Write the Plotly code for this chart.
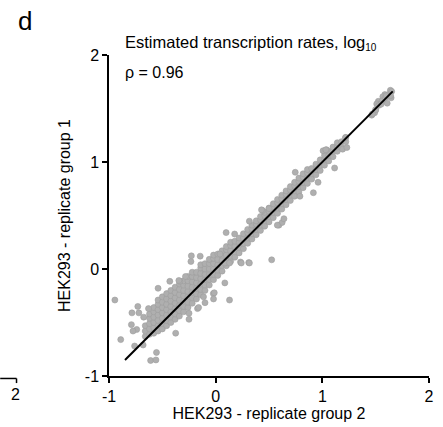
import plotly.graph_objects as go

# ---- data: estimated transcription rates (log10) ----
# core band: (replicate group 2, replicate group 1)
core_pts = [
    (-0.66, -0.63), (-0.66, -0.58), (-0.66, -0.53),
    (-0.62, -0.61), (-0.62, -0.56), (-0.62, -0.51), (-0.62, -0.46), (-0.62, -0.42),
    (-0.58, -0.60), (-0.58, -0.55), (-0.58, -0.50), (-0.58, -0.45), (-0.58, -0.40), (-0.58, -0.36),
    (-0.54, -0.58), (-0.54, -0.53), (-0.54, -0.48), (-0.54, -0.43), (-0.54, -0.38), (-0.54, -0.33), (-0.54, -0.29),
    (-0.50, -0.56), (-0.50, -0.51), (-0.50, -0.46), (-0.50, -0.41), (-0.50, -0.36), (-0.50, -0.31), (-0.50, -0.26),
    (-0.46, -0.53), (-0.46, -0.48), (-0.46, -0.43), (-0.46, -0.38), (-0.46, -0.33), (-0.46, -0.28), (-0.46, -0.23),
    (-0.42, -0.50), (-0.42, -0.45), (-0.42, -0.40), (-0.42, -0.35), (-0.42, -0.30), (-0.42, -0.25), (-0.42, -0.20),
    (-0.38, -0.47), (-0.38, -0.42), (-0.38, -0.37), (-0.38, -0.32), (-0.38, -0.27), (-0.38, -0.22), (-0.38, -0.17),
    (-0.34, -0.44), (-0.34, -0.39), (-0.34, -0.34), (-0.34, -0.29), (-0.34, -0.24), (-0.34, -0.19), (-0.34, -0.14),
    (-0.30, -0.40), (-0.30, -0.35), (-0.30, -0.30), (-0.30, -0.25), (-0.30, -0.20), (-0.30, -0.15), (-0.30, -0.11),
    (-0.26, -0.36), (-0.26, -0.31), (-0.26, -0.26), (-0.26, -0.21), (-0.26, -0.16), (-0.26, -0.11), (-0.26, -0.07),
    (-0.22, -0.32), (-0.22, -0.27), (-0.22, -0.22), (-0.22, -0.17), (-0.22, -0.12), (-0.22, -0.07), (-0.22, -0.03),
    (-0.18, -0.28), (-0.18, -0.23), (-0.18, -0.18), (-0.18, -0.13), (-0.18, -0.08), (-0.18, -0.03),
    (-0.14, -0.24), (-0.14, -0.19), (-0.14, -0.14), (-0.14, -0.09), (-0.14, -0.04), (-0.14, 0.01), (-0.14, 0.04),
    (-0.10, -0.20), (-0.10, -0.15), (-0.10, -0.10), (-0.10, -0.05), (-0.10, 0.00), (-0.10, 0.05),
    (-0.06, -0.15), (-0.06, -0.10), (-0.06, -0.05), (-0.06, 0.00), (-0.06, 0.05), (-0.06, 0.09),
    (-0.02, -0.10), (-0.02, -0.05), (-0.02, 0.00), (-0.02, 0.05), (-0.02, 0.10), (-0.02, 0.13),
    (0.02, -0.06), (0.02, -0.01), (0.02, 0.04), (0.02, 0.09), (0.02, 0.14),
    (0.06, -0.02), (0.06, 0.03), (0.06, 0.08), (0.06, 0.13), (0.06, 0.17),
    (0.10, 0.03), (0.10, 0.08), (0.10, 0.13), (0.10, 0.18), (0.10, 0.21),
    (0.14, 0.07), (0.14, 0.12), (0.14, 0.17), (0.14, 0.22), (0.14, 0.25),
    (0.18, 0.11), (0.18, 0.16), (0.18, 0.21), (0.18, 0.26),
    (0.22, 0.15), (0.22, 0.20), (0.22, 0.25), (0.22, 0.29),
    (0.26, 0.19), (0.26, 0.24), (0.26, 0.29), (0.26, 0.33),
    (0.30, 0.24), (0.30, 0.29), (0.30, 0.34), (0.30, 0.37),
    (0.34, 0.28), (0.34, 0.33), (0.34, 0.38), (0.34, 0.41),
    (0.38, 0.32), (0.38, 0.37), (0.38, 0.42), (0.38, 0.45),
    (0.42, 0.36), (0.42, 0.41), (0.42, 0.46), (0.42, 0.49),
    (0.46, 0.40), (0.46, 0.45), (0.46, 0.50), (0.46, 0.53),
    (0.50, 0.44), (0.50, 0.49), (0.50, 0.54), (0.50, 0.57),
    (0.54, 0.48), (0.54, 0.53), (0.54, 0.58), (0.54, 0.61),
    (0.58, 0.52), (0.58, 0.57), (0.58, 0.62), (0.58, 0.65),
    (0.62, 0.56), (0.62, 0.61), (0.62, 0.66), (0.62, 0.69),
    (0.66, 0.60), (0.66, 0.65), (0.66, 0.70), (0.66, 0.73),
    (0.70, 0.64), (0.70, 0.69), (0.70, 0.74), (0.70, 0.77),
    (0.74, 0.68), (0.74, 0.73), (0.74, 0.78), (0.74, 0.81),
    (0.78, 0.72), (0.78, 0.77), (0.78, 0.82), (0.78, 0.85),
    (0.82, 0.76), (0.82, 0.81), (0.82, 0.86), (0.82, 0.89),
    (0.86, 0.80), (0.86, 0.85), (0.86, 0.90), (0.86, 0.93),
    (0.90, 0.84), (0.90, 0.89), (0.90, 0.94),
    (0.94, 0.88), (0.94, 0.93), (0.94, 0.98),
    (0.98, 0.92), (0.98, 0.97), (0.98, 1.02),
    (1.02, 0.97), (1.02, 1.02), (1.02, 1.06),
    (1.06, 1.01), (1.06, 1.06), (1.06, 1.10),
    (1.10, 1.05), (1.10, 1.10), (1.10, 1.14),
    (1.14, 1.10), (1.14, 1.14), (1.14, 1.18),
    (1.18, 1.14), (1.18, 1.19),
    (1.22, 1.19), (1.22, 1.23),
]
top_pts = [
    (1.638, 1.67), (1.586, 1.63), (1.567, 1.61), (1.608, 1.55), (1.645, 1.60),
    (1.525, 1.567), (1.51, 1.543), (1.50, 1.484), (1.463, 1.438), (1.49, 1.46),
    (1.47, 1.45), (1.50, 1.49), (1.53, 1.53), (1.56, 1.57), (1.59, 1.60),
    (1.62, 1.63), (1.65, 1.66), (1.60, 1.62), (1.55, 1.54), (1.64, 1.62),
]
outlier_pts = [
    (-0.945, -0.29), (-0.89, -0.66), (-0.79, -0.52), (-0.73, -0.35), (-0.785, -0.41),
    (-0.72, -0.41), (-0.675, -0.45), (-0.74, -0.565), (-0.775, -0.58), (-0.76, -0.72),
    (-0.68, -0.71), (-0.555, -0.78), (-0.61, -0.855), (-0.56, -0.85), (-0.54, -0.18),
    (-0.43, -0.115), (-0.228, 0.123), (-0.232, 0.07), (-0.145, 0.12), (0.13, -0.29),
    (-0.022, -0.23), (-0.375, -0.60), (-0.63, -0.37), (-0.336, -0.115), (-0.283, -0.07),
    (-0.25, -0.414), (-0.17, -0.37), (0.525, 0.086), (0.098, 0.34), (0.31, 0.06),
    (0.593, 0.41), (0.623, 0.435), (0.916, 0.713), (0.746, 0.904), (0.96, 0.81),
    (0.79, 0.68), (0.44, 0.546), (-0.114, -0.26), (0.178, 0.327), (0.233, 0.065),
    (1.007, 1.105), (1.04, 1.114), (1.115, 0.944), (1.19, 1.12), (1.217, 1.228),
    (1.23, 1.135), (1.032, 1.114), (0.24, 0.056), (0.316, 0.056), (0.43, 0.553),
    (0.50, 0.565), (0.316, 0.447), (0.04, 0.14), (0.086, 0.056), (-0.345, -0.107),
    (0.086, -0.13), (-0.013, -0.222), (-0.10, -0.315), (-0.16, -0.36), (-0.25, -0.47),
    (-0.02, -0.28), (0.64, 0.47), (0.578, 0.41), (0.13, 0.056),
]
all_pts = core_pts + top_pts + outlier_pts
rep2 = [p[0] for p in all_pts]
rep1 = [p[1] for p in all_pts]

fit_x = [-0.85, 1.66]
fit_y = [-0.85, 1.66]

tick_vals = [-1, 0, 1, 2]
tick_text = ["-1", "0", "1", "2"]

FONT = "Arial, Liberation Sans, sans-serif"

fig = go.Figure()
fig.add_trace(go.Scatter(
    x=rep2, y=rep1, mode="markers",
    marker=dict(size=6, color="rgb(175,175,175)",
                line=dict(width=0.6, color="rgb(158,158,158)")),
    showlegend=False, hoverinfo="skip"))
fig.add_trace(go.Scatter(
    x=fit_x, y=fit_y, mode="lines",
    line=dict(color="black", width=2),
    showlegend=False, hoverinfo="skip"))

axis_common = dict(
    range=[-1, 2], tickvals=tick_vals, ticktext=tick_text,
    showline=True, linecolor="black", linewidth=1.5,
    ticks="outside", ticklen=5, tickwidth=1.5, tickcolor="black",
    showgrid=False, zeroline=False,
    tickfont=dict(family=FONT, size=16, color="black"),
)
fig.update_layout(
    width=443, height=427,
    margin=dict(l=109, r=9, t=55, b=48),
    paper_bgcolor="white", plot_bgcolor="white",
    font=dict(family=FONT, size=16, color="black"),
    xaxis=dict(**axis_common,
               title=dict(text="HEK293 - replicate group 2",
                          font=dict(family=FONT, size=16), standoff=2)),
    yaxis=dict(**axis_common,
               title=dict(text="HEK293 - replicate group 1",
                          font=dict(family=FONT, size=16), standoff=10)),
    annotations=[
        dict(text="d", xref="paper", yref="paper", x=-0.262, y=1.0,
             xanchor="center", yanchor="bottom", yshift=17, showarrow=False,
             font=dict(family=FONT, size=26, color="black")),
        dict(text="Estimated transcription rates, log<sub><span style='font-size:10px'>10</span></sub>",
             xref="paper", yref="paper", x=0.044, y=1.0, yshift=12,
             xanchor="left", yanchor="middle", showarrow=False,
             font=dict(family=FONT, size=16.5, color="black")),
        dict(text="ρ = 0.96", xref="paper", yref="paper", x=0.044, y=0.944,
             xanchor="left", yanchor="middle", showarrow=False,
             font=dict(family=FONT, size=16, color="black")),
        dict(text="2", xref="paper", yref="paper", x=-0.292, y=-0.025,
             xanchor="center", yanchor="top", showarrow=False,
             font=dict(family=FONT, size=16, color="black")),
    ],
    shapes=[
        dict(type="line", xref="paper", yref="paper",
             x0=-0.34, x1=-0.289, y0=-0.0077, y1=-0.0077,
             line=dict(color="black", width=1.5)),
        dict(type="line", xref="paper", yref="paper",
             x0=-0.289, x1=-0.289, y0=-0.0077, y1=-0.022,
             line=dict(color="black", width=1.5)),
    ],
)

fig.write_html("out.html")
